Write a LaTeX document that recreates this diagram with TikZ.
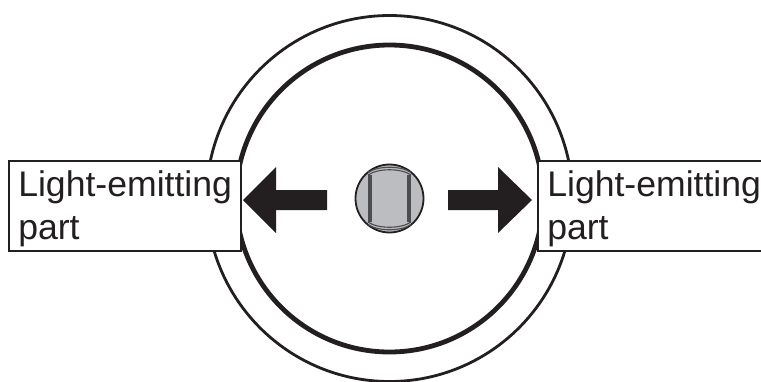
\documentclass[tikz,border=0pt]{standalone}
\usepackage{fontspec}
\setmainfont{Liberation Sans}
\definecolor{ink}{HTML}{231F20}
\definecolor{knob}{HTML}{BBBDC0}
\definecolor{knobline}{HTML}{4D4D4F}
\tikzset{
  labelbox/.style={draw=ink,line width=1.6pt,fill=white,anchor=north west,inner xsep=9.5pt,inner ysep=0pt,
    text width=213pt,align=left,minimum height=90pt,text=ink,font=\fontsize{35.6}{43}\selectfont},
  ring/.style={draw=ink,circle,inner sep=0pt,fill=none},
  bigarrow/.style={fill=ink,draw=none}
}
\newcommand{\liftstrut}{\rule{0pt}{31pt}}
\begin{document}
\begin{tikzpicture}[x=1pt,y=-1pt]
\useasboundingbox (0,0) rectangle (761,381);
\clip (0,0) rectangle (761,381);
\fill[white] (0,0) rectangle (761,381);
\node[ring,line width=2.8pt,minimum size=366pt] (outer) at (389.5,198.5) {};
\node[ring,line width=4.8pt,minimum size=307pt] (inner) at (389.5,198.5) {};
\node[labelbox] (left) at (8,160) {\liftstrut\mbox{Light-emitting}\\part};
\node[labelbox] (right) at (537,160) {\liftstrut\mbox{Light-emitting}\\part};
\fill[bigarrow] (243,200) -- (276,167) -- (276,190) -- (327,190) -- (327,210) -- (276,210) -- (276,233) -- cycle;
\fill[bigarrow] (532,200) -- (498,167) -- (498,190) -- (448,190) -- (448,210) -- (498,210) -- (498,233) -- cycle;
\node[draw=ink,circle,line width=1.8pt,fill=knob,minimum size=68pt,inner sep=0pt] (knobc) at (389.5,198.5) {};
\draw[knobline,line width=4pt] (370,175) -- (370,222);
\draw[knobline,line width=4pt] (409,175) -- (409,222);
\draw[knobline,line width=1.1pt] (368,175) .. controls (378,168) and (401,168) .. (411,175);
\draw[knobline,line width=1.1pt] (368,172.5) .. controls (378,165.5) and (401,165.5) .. (411,172.5);
\draw[knobline,line width=1.1pt] (368,222) .. controls (378,229) and (401,229) .. (411,222);
\draw[knobline,line width=1.1pt] (368,224.5) .. controls (378,231.5) and (401,231.5) .. (411,224.5);
\end{tikzpicture}
\end{document}
